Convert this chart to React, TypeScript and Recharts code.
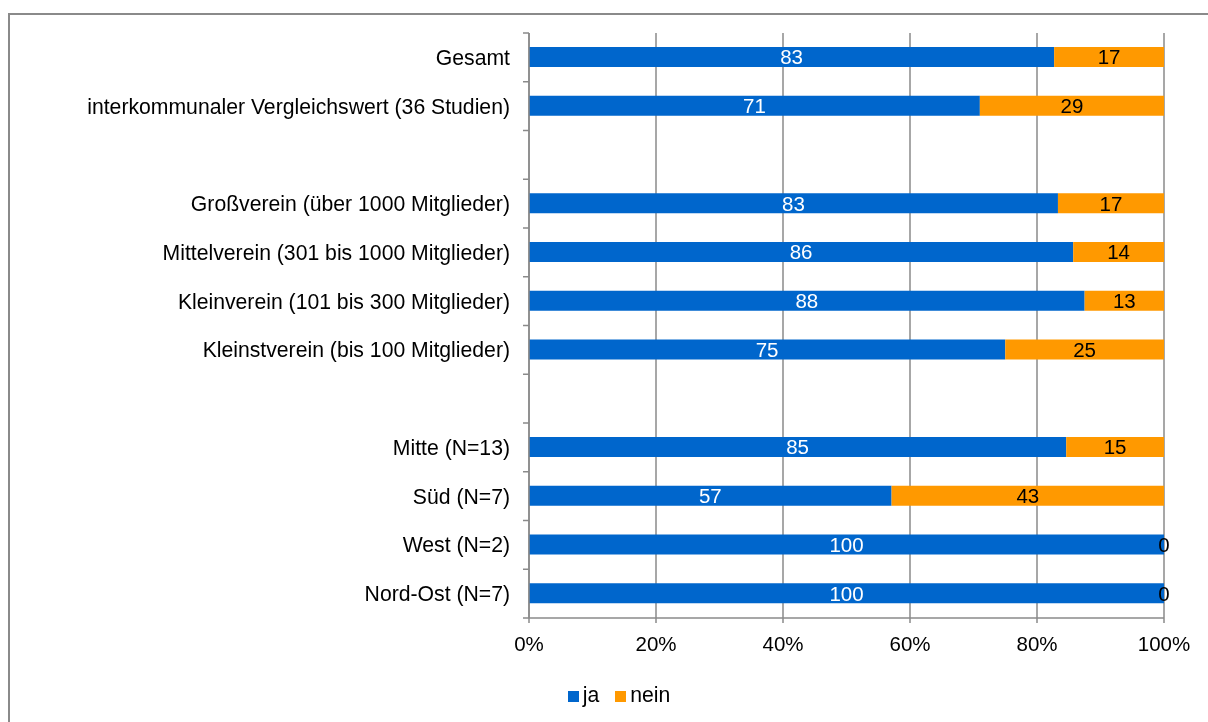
import React from "react";
import {
  BarChart,
  Bar,
  XAxis,
  YAxis,
  CartesianGrid,
  Legend,
  LabelList,
} from "recharts";

const categories = [
  "Gesamt",
  "interkommunaler Vergleichswert (36 Studien)",
  "",
  "Großverein (über 1000 Mitglieder)",
  "Mittelverein (301 bis 1000 Mitglieder)",
  "Kleinverein (101 bis 300 Mitglieder)",
  "Kleinstverein (bis 100 Mitglieder)",
  "",
  "Mitte (N=13)",
  "Süd (N=7)",
  "West (N=2)",
  "Nord-Ost (N=7)",
];

const jaValues = [82.7, 71, null, 83.3, 85.7, 87.5, 75, null, 84.6, 57.1, 100, 100];
const neinValues = [17.3, 29, null, 16.7, 14.3, 12.5, 25, null, 15.4, 42.9, 0, 0];

const xTicks = [0, 20, 40, 60, 80, 100];
const legendItems = [
  { name: "ja", color: "#0066cc" },
  { name: "nein", color: "#ff9900" },
];

const BLUE = "#0066cc";
const ORANGE = "#ff9900";
const GRAY = "#8a8a8a";
const FONT = "'Liberation Sans', Arial, sans-serif";
const FS = 20.5;

const CHART_H = 707;
const MARGIN = { top: 18, right: 44, left: 0, bottom: 14 };
const X_AXIS_H = 64;
const LEGEND_H = 26;
const TICK_MARGIN = 13;
const TICK_SIZE = 6;
// height of one category band, so the small ticks sit between the categories
const BAND = (CHART_H - MARGIN.top - MARGIN.bottom - X_AXIS_H - LEGEND_H) / categories.length;

const data = categories.map((name, i) => ({
  name,
  ja: jaValues[i],
  nein: neinValues[i],
}));

const fmt = (v: any) =>
  v === null || v === undefined || Number(v) === 0 ? "" : String(Math.round(Number(v)));

// a zero "nein" share is written at the end of the ja bar
const ZeroLabel = (props: any) => {
  const { x, y, width, height, value } = props;
  if (value === null || value === undefined || Number(value) !== 0) return null;
  return (
    <text
      x={Number(x) + Number(width)}
      y={Number(y) + Number(height) / 2}
      textAnchor="middle"
      dominantBaseline="central"
      fill="#000"
      fontSize={FS}
      fontFamily={FONT}
    >
      0
    </text>
  );
};

// category label plus an Excel-style tick mark on the band boundary
const CatTick = (props: any) => {
  const { x, y, payload, index } = props;
  const axisX = x + TICK_SIZE + TICK_MARGIN;
  const top = y - BAND / 2;
  return (
    <g>
      <line x1={axisX - TICK_SIZE} x2={axisX} y1={top} y2={top} stroke={GRAY} strokeWidth={1.5} />
      {index === categories.length - 1 && (
        <line
          x1={axisX - TICK_SIZE}
          x2={axisX}
          y1={top + BAND}
          y2={top + BAND}
          stroke={GRAY}
          strokeWidth={1.5}
        />
      )}
      <text
        x={x}
        y={y}
        textAnchor="end"
        dominantBaseline="central"
        fill="#000"
        fontSize={21.2}
        fontFamily={FONT}
      >
        {payload.value}
      </text>
    </g>
  );
};

const LegendContent = () => (
  <div
    style={{
      display: "flex",
      justifyContent: "center",
      alignItems: "center",
      paddingLeft: 36,
      height: LEGEND_H,
      fontSize: 21.2,
      fontFamily: FONT,
      color: "#000",
    }}
  >
    {legendItems.map((it) => (
      <div key={it.name} style={{ display: "flex", alignItems: "center", marginRight: 16 }}>
        <span style={{ width: 11, height: 11, background: it.color, marginRight: 4, marginTop: 2 }} />
        <span>{it.name}</span>
      </div>
    ))}
  </div>
);

export default function App() {
  return (
    <div
      style={{
        position: "fixed",
        left: 8,
        top: 13,
        width: 1240,
        height: 740,
        borderLeft: `2px solid ${GRAY}`,
        borderTop: `2px solid ${GRAY}`,
        fontFamily: FONT,
        overflow: "hidden",
      }}
    >
      <BarChart
        width={1198}
        height={CHART_H}
        data={data}
        layout="vertical"
        barSize={20}
        margin={MARGIN}
      >
        <CartesianGrid horizontal={false} vertical={true} stroke={GRAY} strokeWidth={1.5} />
        <XAxis
          type="number"
          domain={[0, 100]}
          ticks={xTicks}
          tickFormatter={(v) => `${v}%`}
          interval={0}
          height={X_AXIS_H}
          stroke={GRAY}
          strokeWidth={1.5}
          tickSize={5}
          tickMargin={13}
          tick={{ fill: "#000", fontSize: FS, fontFamily: FONT }}
        />
        <YAxis
          type="category"
          dataKey="name"
          width={519}
          interval={0}
          stroke={GRAY}
          strokeWidth={1.5}
          tickLine={false}
          tickSize={TICK_SIZE}
          tickMargin={TICK_MARGIN}
          tick={CatTick}
        />
        <Legend
          verticalAlign="bottom"
          height={LEGEND_H}
          wrapperStyle={{ left: 0, width: 1198 }}
          content={() => <LegendContent />}
        />
        <Bar dataKey="ja" name="ja" stackId="a" fill={BLUE} isAnimationActive={false}>
          <LabelList
            dataKey="ja"
            position="center"
            formatter={fmt}
            fill="#fff"
            style={{ fontSize: FS, fontFamily: FONT }}
          />
          <LabelList dataKey="nein" content={ZeroLabel} />
        </Bar>
        <Bar dataKey="nein" name="nein" stackId="a" fill={ORANGE} isAnimationActive={false}>
          <LabelList
            dataKey="nein"
            position="center"
            formatter={fmt}
            fill="#000"
            style={{ fontSize: FS, fontFamily: FONT }}
          />
        </Bar>
      </BarChart>
    </div>
  );
}
